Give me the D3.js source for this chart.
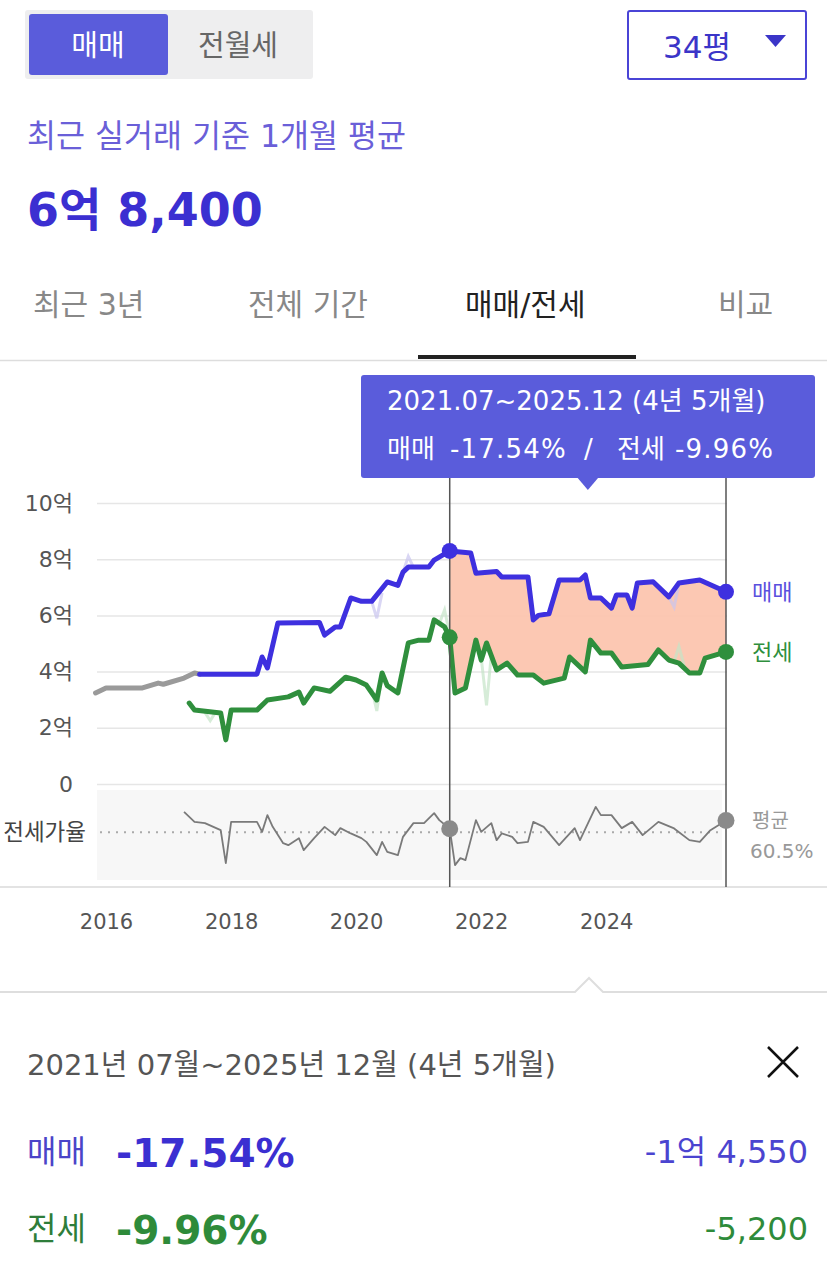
<!DOCTYPE html>
<html>
<head>
<meta charset="utf-8">
<script src="https://cdn.jsdelivr.net/npm/d3@7"></script>
<style>
  body { margin: 0; background: #fff; }
  text { font-family: "DejaVu Sans", "Noto Sans CJK KR", sans-serif; }
</style>
</head>
<body>
<div id="chart"></div>
<script>
// ---- data (억 원, month) ----
var saleEarly = [["2015-11",3.24],["2016-01",3.42],["2016-08",3.42],["2016-11",3.59],["2016-12",3.55],
  ["2017-04",3.77],["2017-06",3.95],["2017-07",3.91]];

var sale = [["2017-07",3.91],["2018-06",3.91],["2018-07",4.52],["2018-08",4.13],["2018-10",5.73],
  ["2019-06",5.75],["2019-07",5.30],["2019-09",5.59],["2019-10",5.59],["2019-12",6.62],["2020-02",6.50],
  ["2020-04",6.50],["2020-07",7.19],["2020-09",7.07],["2020-10",7.54],["2020-11",7.72],["2021-03",7.72],
  ["2021-04",7.97],["2021-07",8.295],["2021-11",8.22],["2021-12",7.50],["2022-04",7.56],["2022-05",7.37],
  ["2022-10",7.37],["2022-11",5.84],["2022-12",6.00],["2023-02",6.06],["2023-04",7.26],["2023-08",7.26],
  ["2023-09",7.44],["2023-10",6.62],["2023-12",6.62],["2024-02",6.26],["2024-03",6.73],["2024-05",6.73],
  ["2024-06",6.26],["2024-07",7.15],["2024-10",7.20],["2025-01",6.66],["2025-03",7.15],["2025-07",7.26],
  ["2025-12",6.84]];

var jeonse = [["2017-05",2.88],["2017-06",2.63],["2017-11",2.53],["2017-12",1.57],["2018-01",2.63],
  ["2018-06",2.63],["2018-08",2.99],["2018-12",3.10],["2019-02",3.27],["2019-03",2.88],["2019-05",3.42],
  ["2019-08",3.30],["2019-11",3.80],["2020-01",3.70],["2020-03",3.52],["2020-05",2.99],["2020-06",3.95],
  ["2020-07",3.50],["2020-09",3.24],["2020-11",5.02],["2021-01",5.12],["2021-03",5.12],["2021-04",5.84],
  ["2021-06",5.59],["2021-07",5.22],["2021-08",3.24],["2021-10",3.42],["2021-12",5.12],["2022-01",4.41],
  ["2022-02",5.02],["2022-04",4.06],["2022-06",4.30],["2022-08",3.88],["2022-11",3.88],["2023-01",3.59],
  ["2023-05",3.77],["2023-06",4.52],["2023-09",3.99],["2023-10",5.12],["2023-12",4.66],["2024-02",4.66],
  ["2024-04",4.16],["2024-09",4.25],["2024-11",4.77],["2025-01",4.41],["2025-03",4.30],["2025-05",3.95],
  ["2025-07",3.95],["2025-08",4.48],["2025-12",4.70]];

// faint raw monthly spikes behind the smoothed lines
var saleRaw = [[["2020-04",6.5],["2020-05",5.9],["2020-06",6.8]],
  [["2020-10",7.54],["2020-11",8.1],["2020-12",7.72]],
  [["2025-01",6.66],["2025-02",6.3],["2025-03",7.15]]];
var jeonseRaw = [[["2017-08",2.55],["2017-09",2.25],["2017-10",2.55]],
  [["2020-04",3.4],["2020-05",2.6],["2020-06",3.9]],
  [["2021-05",5.7],["2021-06",6.2],["2021-07",5.3]],
  [["2022-01",4.5],["2022-02",2.8],["2022-03",4.6]],
  [["2025-02",4.35],["2025-03",4.9],["2025-04",4.2]]];

// 전세가율 (%)
var ratio = [["2017-04",74.7],["2017-06",67.7],["2017-08",66.8],["2017-11",61.9],["2017-12",38.8],
  ["2018-01",67.7],["2018-06",67.7],["2018-07",60.7],["2018-08",72.4],["2018-09",64.2],["2018-11",52.8],
  ["2018-12",51.4],["2019-02",56.3],["2019-03",47.9],["2019-05",56.3],["2019-07",64.2],["2019-09",58.4],
  ["2019-10",63.3],["2019-12",59.6],["2020-02",56.3],["2020-03",53.7],["2020-05",44.4],["2020-06",53.7],
  ["2020-07",46.7],["2020-09",44.4],["2020-10",57.2],["2020-12",66.8],["2021-02",66.8],["2021-04",73.8],
  ["2021-05",68.9],["2021-07",62.9],["2021-08",37.4],["2021-09",42.3],["2021-10",40.9],["2021-12",68.9],
  ["2022-01",60.7],["2022-03",66.8],["2022-04",54.9],["2022-05",59.6],["2022-07",57.2],["2022-08",52.8],
  ["2022-10",53.7],["2022-11",67.7],["2023-01",64.2],["2023-04",51.4],["2023-07",63.3],["2023-08",54.9],
  ["2023-11",78.2],["2023-12",72.4],["2024-02",72.4],["2024-04",63.3],["2024-06",67.7],["2024-08",58.4],
  ["2024-11",67.7],["2025-02",63.1],["2025-05",54.9],["2025-07",53.7],["2025-09",61.9],["2025-12",68.7]];
var ratioAvg = 60.5;

var yTicks = [0, 2, 4, 6, 8, 10];
var yearTicks = ["2016-01", "2018-01", "2020-01", "2022-01", "2024-01"];
var rangeStart = "2021-07", rangeEnd = "2025-12";

var tabs = ["최근 3년", "전체 기간", "매매/전세", "비교"];
var tabX = [33, 248, 465, 718];

// ---- setup ----
var W = 827, H = 1266;
var parse = d3.timeParse("%Y-%m");
function prep(a) { return a.map(function(d) { return {date: parse(d[0]), v: d[1]}; }); }

var svg = d3.select("#chart").append("svg").attr("width", W).attr("height", H);

var x = d3.scaleTime().domain([parse("2016-01"), parse("2025-12")]).range([106, 726]);
var y = d3.scaleLinear().domain([0, 10]).range([784, 503]);
var yr = d3.scaleLinear().domain([27, 90]).range([880, 790]);

var plotL = 97, plotR = 727;
var FONT = "'DejaVu Sans', 'Noto Sans CJK KR', sans-serif";

// ---- top controls ----
svg.append("rect").attr("x", 25).attr("y", 10).attr("width", 288).attr("height", 69).attr("rx", 3).attr("fill", "#eeeeef");
svg.append("rect").attr("x", 29).attr("y", 14).attr("width", 139).attr("height", 61).attr("rx", 3).attr("fill", "#5a5cdb");
svg.append("text").attr("x", 98).attr("y", 56).attr("text-anchor", "middle").attr("font-size", 29).attr("fill", "#fff").text("매매");
svg.append("text").attr("x", 238).attr("y", 56).attr("text-anchor", "middle").attr("font-size", 29).attr("fill", "#666").text("전월세");

svg.append("rect").attr("x", 628).attr("y", 11).attr("width", 178).attr("height", 68).attr("rx", 2)
  .attr("fill", "#fff").attr("stroke", "#4a44d6").attr("stroke-width", 2);
svg.append("text").attr("x", 697).attr("y", 58).attr("text-anchor", "middle").attr("font-size", 31).attr("fill", "#3b35c8").text("34평");
svg.append("path").attr("d", "M765,35 L786,35 L775.5,47 Z").attr("fill", "#3b35c8");

svg.append("text").attr("x", 27).attr("y", 147).attr("font-size", 31.5).attr("fill", "#6a5fd8").text("최근 실거래 기준 1개월 평균");
svg.append("text").attr("x", 27).attr("y", 226).attr("font-size", 46).attr("font-weight", 700).attr("fill", "#3b2fd1").text("6억 8,400");

tabs.forEach(function(t, i) {
  svg.append("text").attr("x", tabX[i]).attr("y", 315).attr("font-size", 30)
    .attr("fill", i === 2 ? "#222" : "#888").text(t);
});
svg.append("line").attr("x1", 0).attr("x2", W).attr("y1", 360.5).attr("y2", 360.5).attr("stroke", "#dddddd").attr("stroke-width", 1.5);
svg.append("rect").attr("x", 418).attr("y", 355).attr("width", 218).attr("height", 4).attr("fill", "#222");

// ---- y axis + grid ----
var gy = svg.append("g").attr("transform", "translate(" + plotL + ",0)")
  .call(d3.axisLeft(y).tickValues(yTicks).tickSize(-(plotR - plotL)).tickPadding(24)
    .tickFormat(function(d) { return d === 0 ? "0" : d + "억"; }));
gy.select(".domain").remove();
gy.selectAll("line").attr("stroke", "#e6e6e6").attr("stroke-width", 1.5);
gy.selectAll("text").attr("font-size", 22).attr("fill", "#555").style("font-family", FONT);

// ---- ratio panel ----
svg.append("rect").attr("x", plotL).attr("y", yr(90)).attr("width", 625).attr("height", yr(27) - yr(90)).attr("fill", "#f7f7f7");
svg.append("line").attr("x1", plotL + 3).attr("x2", plotR - 4).attr("y1", yr(ratioAvg)).attr("y2", yr(ratioAvg))
  .attr("stroke", "#aaa").attr("stroke-width", 2).attr("stroke-dasharray", "2,6");
svg.append("text").attr("x", 86).attr("y", yr(ratioAvg) + 8).attr("text-anchor", "end").attr("font-size", 22.5).attr("fill", "#444").text("전세가율");
svg.append("line").attr("x1", 0).attr("x2", W).attr("y1", 887).attr("y2", 887).attr("stroke", "#e3e3e3").attr("stroke-width", 2);

// ---- x axis labels ----
var gx = svg.append("g").attr("transform", "translate(0,929)")
  .call(d3.axisBottom(x).tickValues(yearTicks.map(parse)).tickSize(0).tickPadding(0).tickFormat(d3.timeFormat("%Y")));
gx.select(".domain").remove();
gx.selectAll("text").attr("font-size", 21).attr("fill", "#555").attr("dy", 0).style("font-family", FONT);

// ---- series ----
var S = prep(sale), J = prep(jeonse), SE = prep(saleEarly), R = prep(ratio);
var d0 = parse(rangeStart), d1 = parse(rangeEnd);

function valueAt(series, date) {
  for (var i = 0; i < series.length - 1; i++) {
    var a = series[i], b = series[i + 1];
    if (date >= a.date && date <= b.date) {
      var t = (date - a.date) / (b.date - a.date || 1);
      return a.v + t * (b.v - a.v);
    }
  }
  return series[series.length - 1].v;
}

// shaded gap between 매매 and 전세 in the selected range
var gapDates = S.concat(J).map(function(d) { return +d.date; })
  .filter(function(t) { return t >= +d0 && t <= +d1; });
gapDates = Array.from(new Set(gapDates)).sort(d3.ascending).map(function(t) { return new Date(t); });
var gap = gapDates.map(function(dt) { return {date: dt, s: valueAt(S, dt), j: valueAt(J, dt)}; });
svg.append("path").datum(gap)
  .attr("d", d3.area().x(function(d) { return x(d.date); }).y0(function(d) { return y(d.j); }).y1(function(d) { return y(d.s); }))
  .attr("fill", "#fcc5af").attr("opacity", 0.95);

var line = d3.line().x(function(d) { return x(d.date); }).y(function(d) { return y(d.v); });

saleRaw.forEach(function(seg) {
  svg.append("path").datum(prep(seg)).attr("d", line).attr("fill", "none")
    .attr("stroke", "#c9c5f0").attr("stroke-width", 3).attr("opacity", 0.7);
});
jeonseRaw.forEach(function(seg) {
  svg.append("path").datum(prep(seg)).attr("d", line).attr("fill", "none")
    .attr("stroke", "#c5e4c8").attr("stroke-width", 3).attr("opacity", 0.7);
});

svg.append("path").datum(SE).attr("d", line).attr("fill", "none").attr("stroke", "#9a9a9a")
  .attr("stroke-width", 5).attr("stroke-linejoin", "round").attr("stroke-linecap", "round");
svg.append("path").datum(J).attr("d", line).attr("fill", "none").attr("stroke", "#2f8f3d")
  .attr("stroke-width", 5).attr("stroke-linejoin", "round").attr("stroke-linecap", "round");
svg.append("path").datum(S).attr("d", line).attr("fill", "none").attr("stroke", "#3e30df")
  .attr("stroke-width", 5).attr("stroke-linejoin", "round").attr("stroke-linecap", "round");

var rline = d3.line().x(function(d) { return x(d.date); }).y(function(d) { return yr(d.v); });
svg.append("path").datum(R).attr("d", rline).attr("fill", "none").attr("stroke", "#7a7a7a")
  .attr("stroke-width", 1.8).attr("stroke-linejoin", "round");

// ---- range markers ----
[d0, d1].forEach(function(dt) {
  svg.append("line").attr("x1", x(dt)).attr("x2", x(dt)).attr("y1", 478).attr("y2", 887)
    .attr("stroke", "#555").attr("stroke-width", 1.5);
});
[d0, d1].forEach(function(dt) {
  svg.append("circle").attr("cx", x(dt)).attr("cy", y(valueAt(S, dt))).attr("r", 8).attr("fill", "#3e30df");
  svg.append("circle").attr("cx", x(dt)).attr("cy", y(valueAt(J, dt))).attr("r", 8).attr("fill", "#2f8f3d");
  svg.append("circle").attr("cx", x(dt)).attr("cy", yr(valueAt(R, dt))).attr("r", 8.5).attr("fill", "#8a8a8a");
});

var endX = x(d1) + 26;
svg.append("text").attr("x", endX).attr("y", y(valueAt(S, d1)) + 8).attr("font-size", 22).attr("fill", "#5a50de").text("매매");
svg.append("text").attr("x", endX).attr("y", y(valueAt(J, d1)) + 8).attr("font-size", 22).attr("fill", "#2f8f3d").text("전세");
svg.append("text").attr("x", endX).attr("y", yr(valueAt(R, d1)) + 8).attr("font-size", 20).attr("fill", "#999").text("평균");
svg.append("text").attr("x", endX - 2).attr("y", yr(valueAt(R, d1)) + 38).attr("font-size", 20).attr("fill", "#999").text(ratioAvg + "%");

// ---- tooltip ----
var tipMid = (x(d0) + x(d1)) / 2;
svg.append("rect").attr("x", 361).attr("y", 375).attr("width", 454).attr("height", 103).attr("rx", 3).attr("fill", "#5a5cdb");
svg.append("path").attr("d", "M" + (tipMid - 11) + ",477 L" + (tipMid + 11) + ",477 L" + tipMid + ",490 Z").attr("fill", "#5a5cdb");
svg.append("text").attr("x", 387).attr("y", 410).attr("font-size", 26).attr("fill", "#fff").text("2021.07~2025.12 (4년 5개월)");
var tip2 = svg.append("text").attr("y", 458).attr("font-size", 26).attr("fill", "#fff");
tip2.append("tspan").attr("x", 387).text("매매");
tip2.append("tspan").attr("x", 450).attr("letter-spacing", 1.2).text("-17.54%");
tip2.append("tspan").attr("x", 584).text("/");
tip2.append("tspan").attr("x", 617).text("전세");
tip2.append("tspan").attr("x", 675).attr("letter-spacing", 1.2).text("-9.96%");

// ---- summary panel ----
svg.append("path").attr("d", "M0,992 L575,992 L589,978 L603,992 L" + W + ",992")
  .attr("fill", "#fff").attr("stroke", "#dedede").attr("stroke-width", 2);
svg.append("text").attr("x", 27).attr("y", 1075).attr("font-size", 29).attr("fill", "#555").text("2021년 07월~2025년 12월 (4년 5개월)");
svg.append("path").attr("d", "M768,1047 L798,1077 M798,1047 L768,1077").attr("stroke", "#111").attr("stroke-width", 2.5);

svg.append("text").attr("x", 27).attr("y", 1163).attr("font-size", 32).attr("fill", "#4b44c8").text("매매");
svg.append("text").attr("x", 116).attr("y", 1167).attr("font-size", 39).attr("font-weight", 700).attr("fill", "#3b2fd1").text("-17.54%");
svg.append("text").attr("x", 808).attr("y", 1163).attr("text-anchor", "end").attr("font-size", 32).attr("fill", "#4b44d0").text("-1억 4,550");

svg.append("text").attr("x", 27).attr("y", 1240).attr("font-size", 32).attr("fill", "#2e7d3a").text("전세");
svg.append("text").attr("x", 116).attr("y", 1244).attr("font-size", 39).attr("font-weight", 700).attr("fill", "#2e8b3a").text("-9.96%");
svg.append("text").attr("x", 808).attr("y", 1240).attr("text-anchor", "end").attr("font-size", 32).attr("fill", "#2e8b3a").text("-5,200");
</script>
</body>
</html>
